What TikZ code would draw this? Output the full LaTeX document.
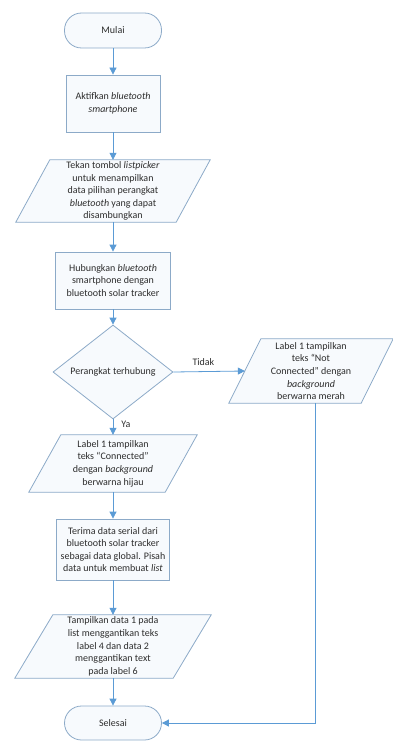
\documentclass[tikz,border=0pt]{standalone}
\usepackage{fontspec}
\setmainfont{Carlito}
\usetikzlibrary{arrows.meta,shapes.geometric,calc,backgrounds}
\definecolor{ln}{RGB}{91,155,213}
\definecolor{bd}{RGB}{140,170,200}
\definecolor{fl}{RGB}{247,250,253}
\definecolor{tx}{RGB}{45,45,45}
\newcommand\drawpara[2]{%
  \begin{scope}[on background layer]
    \draw[shapeline] ([xshift=#2]#1.north west) -- ([xshift=#2]#1.north east)
      -- ([xshift=-#2]#1.south east) -- ([xshift=-#2]#1.south west) -- cycle;
  \end{scope}}
\begin{document}
\begin{tikzpicture}[x=1pt,y=1pt,
  every node/.style={text=tx, font=\fontsize{10}{12.6}\selectfont, align=center},
  shapeline/.style={draw=bd, fill=fl, line width=0.8pt},
  term/.style={shapeline, rectangle, rounded corners=17pt, minimum width=97pt, inner sep=0pt},
  proc/.style={shapeline, rectangle, inner sep=0pt},
  dec/.style={shapeline, diamond, minimum width=120pt, minimum height=70pt, inner sep=0pt},
  iobox/.style={rectangle, inner sep=0pt},
  arr/.style={draw=ln, line width=0.8pt, -{Triangle[width=7pt,length=7pt]}},
  lbl/.style={inner sep=2pt}
]
\useasboundingbox (0,0) rectangle (393,-741);

\node[term, minimum height=35pt] (start) at (113,-30.5) {Mulai};
\node[proc, minimum width=94pt, minimum height=57pt] (a1) at (113,-103.5)
  {Aktifkan \textit{bluetooth}\\ \textit{smartphone}};
\node[iobox, minimum width=160pt, minimum height=62pt] (p1) at (113,-191)
  {Tekan tombol \textit{listpicker}\\ untuk menampilkan\\ data pilihan perangkat\\ \textit{bluetooth} yang dapat\\ disambungkan};
\drawpara{p1}{17pt}
\node[proc, minimum width=115pt, minimum height=57pt] (a2) at (113,-280.5)
  {Hubungkan \textit{bluetooth}\\ smartphone dengan\\ bluetooth solar tracker};
\node[dec] (d) at (113,-372) {Perangkat terhubung};
\node[iobox, minimum width=132pt, minimum height=64pt] (p2) at (311,-371)
  {Label 1 tampilkan\\ teks “Not\\ Connected” dengan\\ \textit{background}\\ berwarna merah};
\drawpara{p2}{16pt}
\node[iobox, minimum width=136pt, minimum height=57pt] (p3) at (113,-463.5)
  {Label 1 tampilkan\\ teks “Connected”\\ dengan \textit{background}\\ berwarna hijau};
\drawpara{p3}{16pt}
\node[proc, minimum width=113pt, minimum height=61pt] (a3) at (113,-549.5)
  {Terima data serial dari\\ bluetooth solar tracker\\ sebagai data global. Pisah\\ data untuk membuat \textit{list}};
\node[iobox, minimum width=158pt, minimum height=63pt] (p4) at (113,-646.5)
  {Tampilkan data 1 pada\\ list menggantikan teks\\ label 4 dan data 2\\ menggantikan text\\ pada label 6};
\drawpara{p4}{19pt}
\node[term, minimum height=34pt] (end) at (113,-723) {Selesai};

\draw[arr] (start) -- (a1);
\draw[arr] (a1) -- (p1);
\draw[arr] (p1) -- (a2);
\draw[arr] (a2) -- (d);
\draw[arr] (d.east) -- node[lbl, above=4pt, pos=0.42] {Tidak} (p2.west);
\draw[arr] (d.south) -- node[lbl, right=6pt, pos=0.35] {Ya} (p3.north);
\draw[arr] (p3) -- (a3);
\draw[arr] (a3) -- (p4);
\draw[arr] (p4) -- (end);
\draw[arr] ([xshift=4pt]p2.south) |- (end.east);
\end{tikzpicture}
\end{document}
